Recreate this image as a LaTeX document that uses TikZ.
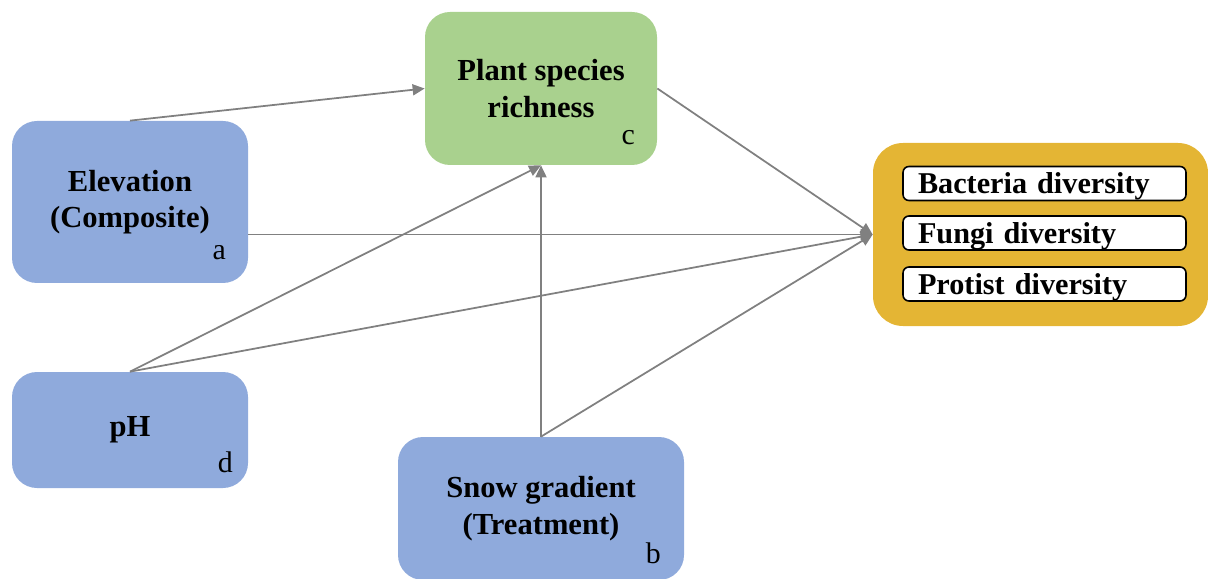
\documentclass[tikz,border=0pt]{standalone}
\usepackage{fontspec}
\setmainfont{Liberation Serif}
\usepackage{tikz}
\usetikzlibrary{positioning,arrows.meta}
\definecolor{boxblue}{RGB}{143,170,220}
\definecolor{boxgreen}{RGB}{169,209,142}
\definecolor{boxgold}{RGB}{228,181,52}
\definecolor{arrowgray}{RGB}{128,128,128}

\begin{document}
\begin{tikzpicture}[>={Triangle[length=2.4mm,width=2.2mm]}]
\tikzstyle{block}=[rectangle,rounded corners=0.5cm,align=center,font=\fontsize{17.4}{20.8}\selectfont\bfseries]
\tikzstyle{tag}=[font=\fontsize{17}{20}\selectfont,inner sep=0pt]
\tikzstyle{item}=[rectangle,draw=black,fill=white,rounded corners=0.12cm,line width=0.9pt,minimum height=0.68cm,text width=5.06cm,inner xsep=0.3cm,inner ysep=0pt,text depth=0pt,align=left,font=\fontsize{17.2}{20}\selectfont\bfseries]
\tikzstyle{link}=[->,draw=arrowgray,line width=1pt]
\useasboundingbox (0,0) rectangle (24.16,-11.58);

\node[block,fill=boxblue,minimum width=4.72cm,minimum height=3.24cm] (E) at (2.6,-4.04) {Elevation\\(Composite)};
\node[block,fill=boxblue,minimum width=4.72cm,minimum height=2.32cm] (D) at (2.6,-8.6) {pH};
\node[block,fill=boxgreen,minimum width=4.64cm,minimum height=3.06cm] (P) at (10.82,-1.77) {Plant species\\richness};
\node[block,fill=boxblue,minimum width=5.72cm,minimum height=2.86cm] (S) at (10.82,-10.17) {Snow gradient\\(Treatment)};
\node[block,fill=boxgold,rounded corners=0.6cm,minimum width=6.7cm,minimum height=3.66cm] (O) at (20.81,-4.69) {};

\node[item] (B1) at (20.89,-3.67) {Bacteria diversity};
\node[item] (B2) at (20.89,-4.66) {Fungi diversity};
\node[item] (B3) at (20.89,-5.68) {Protist diversity};

\node[tag] (ta) at ([shift={(-0.58,0.62)}]E.south east) {a};
\node[tag] (td) at ([shift={(-0.46,0.52)}]D.south east) {d};
\node[tag] (tc) at ([shift={(-0.58,0.56)}]P.south east) {c};
\node[tag] (tb) at ([shift={(-0.62,0.54)}]S.south east) {b};

\draw[link] (E.north) -- (P.west);
\draw[link] (E.east |- O.west) -- (O.west);
\draw[link] (D.north) -- (P.south);
\draw[link] (D.north) -- (O.west);
\draw[link] (S.north) -- (P.south);
\draw[link] (S.north) -- (O.west);
\draw[link] (P.east) -- (O.west);
\end{tikzpicture}
\end{document}
